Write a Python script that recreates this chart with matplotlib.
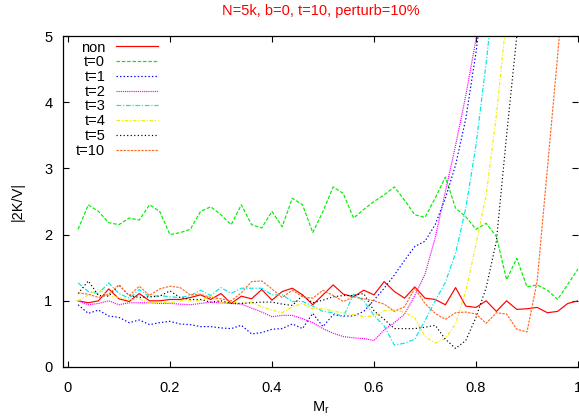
import matplotlib
matplotlib.use("Agg")
import matplotlib.pyplot as plt
import numpy as np

plt.rcParams['font.family'] = ['Liberation Sans', 'DejaVu Sans']

title = "N=5k, b=0, t=10, perturb=10%"
labels = ["non", "t=0", "t=1", "t=2", "t=3", "t=4", "t=5", "t=10"]

m_r = [0.02, 0.04, 0.06, 0.08, 0.10, 0.12, 0.14, 0.16, 0.18, 0.20,
       0.22, 0.24, 0.26, 0.28, 0.30, 0.32, 0.34, 0.36, 0.38, 0.40,
       0.42, 0.44, 0.46, 0.48, 0.50, 0.52, 0.54, 0.56, 0.58, 0.60,
       0.62, 0.64, 0.66, 0.68, 0.70, 0.72, 0.74, 0.76, 0.78, 0.80,
       0.82, 0.84, 0.86, 0.88, 0.90, 0.92, 0.94, 0.96, 0.98, 1.00]

non = [1.00, 0.97, 1.00, 1.18, 1.03, 0.99, 1.11, 1.00, 1.00, 1.02,
       1.02, 1.05, 1.09, 1.02, 1.11, 0.96, 1.07, 1.03, 1.17, 1.01,
       1.14, 1.19, 1.09, 0.94, 1.09, 1.24, 1.10, 1.06, 1.16, 1.09,
       1.29, 1.14, 1.04, 1.21, 1.04, 1.02, 0.94, 1.20, 0.92, 0.90,
       1.00, 0.84, 1.00, 0.87, 0.88, 0.90, 0.82, 0.84, 0.96, 1.00]

t0 = [2.08, 2.45, 2.35, 2.18, 2.15, 2.25, 2.22, 2.45, 2.35, 2.00,
      2.03, 2.08, 2.35, 2.42, 2.30, 2.15, 2.45, 2.15, 2.10, 2.35,
      2.12, 2.55, 2.45, 2.03, 2.35, 2.72, 2.62, 2.25, 2.38, 2.50,
      2.60, 2.72, 2.52, 2.30, 2.26, 2.55, 2.87, 2.40, 2.27, 2.08,
      2.17, 1.97, 1.32, 1.64, 1.21, 1.24, 1.16, 1.02, 1.25, 1.48]

t1 = [0.94, 0.81, 0.86, 0.77, 0.75, 0.67, 0.71, 0.64, 0.67, 0.69,
      0.65, 0.64, 0.61, 0.61, 0.59, 0.58, 0.63, 0.50, 0.52, 0.57,
      0.58, 0.65, 0.58, 0.81, 0.61, 0.79, 0.77, 0.77, 0.84, 1.01,
      1.19, 1.39, 1.61, 1.82, 1.90, 2.15, 2.55, 3.05, 3.75, 4.75,
      6.00]

t2 = [1.00, 0.94, 0.96, 1.00, 0.94, 0.97, 0.97, 0.97, 0.96, 0.96,
      0.95, 0.94, 0.96, 0.98, 0.97, 0.96, 0.95, 0.89, 0.83, 0.76,
      0.78, 0.78, 0.73, 0.67, 0.58, 0.51, 0.46, 0.44, 0.43, 0.40,
      0.56, 0.67, 0.80, 1.08, 1.40, 1.95, 2.65, 3.35, 4.10, 4.95,
      6.00]

t3 = [1.27, 1.14, 1.11, 1.27, 1.11, 1.04, 1.17, 1.06, 1.08, 1.06,
      1.05, 1.08, 1.16, 1.08, 1.20, 1.11, 1.19, 1.19, 1.19, 1.09,
      1.09, 0.99, 0.99, 0.92, 0.84, 0.82, 0.76, 1.10, 1.00, 0.78,
      0.62, 0.33, 0.36, 0.42, 0.70, 1.00, 1.28, 1.72, 2.40, 3.35,
      4.60, 6.00]

t4 = [1.00, 1.09, 1.17, 1.08, 1.05, 1.01, 1.03, 0.97, 0.98, 0.97,
      1.00, 1.00, 1.00, 1.08, 0.97, 0.98, 0.96, 0.98, 0.91, 0.86,
      0.82, 0.91, 0.96, 0.88, 0.88, 0.85, 0.81, 0.79, 0.76, 0.77,
      0.85, 0.86, 0.83, 0.74, 0.46, 0.36, 0.43, 0.65, 1.15, 1.85,
      2.60, 3.80, 5.30]

t5 = [1.11, 1.30, 1.08, 1.07, 1.24, 1.08, 1.05, 1.06, 1.07, 1.15,
      1.05, 1.02, 1.02, 0.98, 1.00, 0.96, 0.96, 0.97, 0.98, 0.98,
      0.95, 0.93, 1.08, 0.97, 1.01, 1.06, 1.08, 1.08, 1.11, 0.85,
      0.72, 0.58, 0.58, 0.58, 0.60, 0.63, 0.42, 0.28, 0.40, 0.75,
      1.20, 1.90, 3.50, 5.00, 6.50]

t10 = [1.12, 1.10, 1.05, 1.10, 1.24, 1.08, 1.22, 1.08, 1.18, 1.22,
       1.20, 1.09, 1.10, 1.05, 1.03, 1.00, 1.12, 1.29, 1.30, 1.18,
       1.05, 1.16, 1.06, 1.04, 1.16, 1.08, 0.99, 1.06, 1.03, 1.00,
       0.95, 0.84, 0.91, 1.19, 0.96, 0.81, 0.72, 0.82, 0.83, 0.80,
       0.66, 0.82, 0.80, 0.57, 0.53, 1.30, 3.00, 4.70, 6.50]

series = [non, t0, t1, t2, t3, t4, t5, t10]
colors = ['#ff0000', '#00ee00', '#0000ff', '#ff00ff', '#00e8e8', '#f0f000', '#000000', '#ff6a2a']
styles = ['-', (0, (3, 1.5)), (0, (1.2, 1.8)), (0, (1, 0.8)), (0, (4, 1.5, 1, 1.5)),
          (0, (3, 1.5, 1, 1.5)), (0, (1, 2)), (0, (2, 1))]

fig = plt.figure(figsize=(5.79, 4.16), dpi=100)
ax = fig.add_axes([62.8 / 579, 49 / 416, 515.2 / 579, 331 / 416])

for ys, lab, c, ls in zip(series, labels, colors, styles):
    ax.plot(m_r[:len(ys)], ys, color=c, linestyle=ls, lw=0.85, label=lab)

ax.set_xlim(-0.01, 1.0)
ax.set_ylim(0, 5)
ax.set_xticks([0, 0.2, 0.4, 0.6, 0.8, 1.0])
ax.set_xticklabels(["0", "0.2", "0.4", "0.6", "0.8", "1"])
ax.set_yticks([0, 1, 2, 3, 4, 5])
ax.tick_params(direction='in', length=4, width=0.8, top=True, right=True,
               labelsize=10.5)
ax.tick_params(axis='x', pad=10)
ax.tick_params(axis='y', pad=7.5)
for sp in ax.spines.values():
    sp.set_linewidth(0.9)
ax.spines['right'].set_visible(False)

ax.set_xlabel(r"M$_\mathregular{r}$", fontsize=10.5, labelpad=3)
ax.set_ylabel("|2K/V|", fontsize=10.5, labelpad=14)
ax.set_title(title, color='#ff0000', fontsize=10.5, pad=15)

leg = ax.legend(loc='upper left', bbox_to_anchor=(0.02, 0.995), frameon=False,
                markerfirst=False, fontsize=10.5, handlelength=2.9,
                handletextpad=0.75, labelspacing=0.05, borderpad=0.2,
                borderaxespad=0.0)

fig.savefig("out.png", dpi=100)
